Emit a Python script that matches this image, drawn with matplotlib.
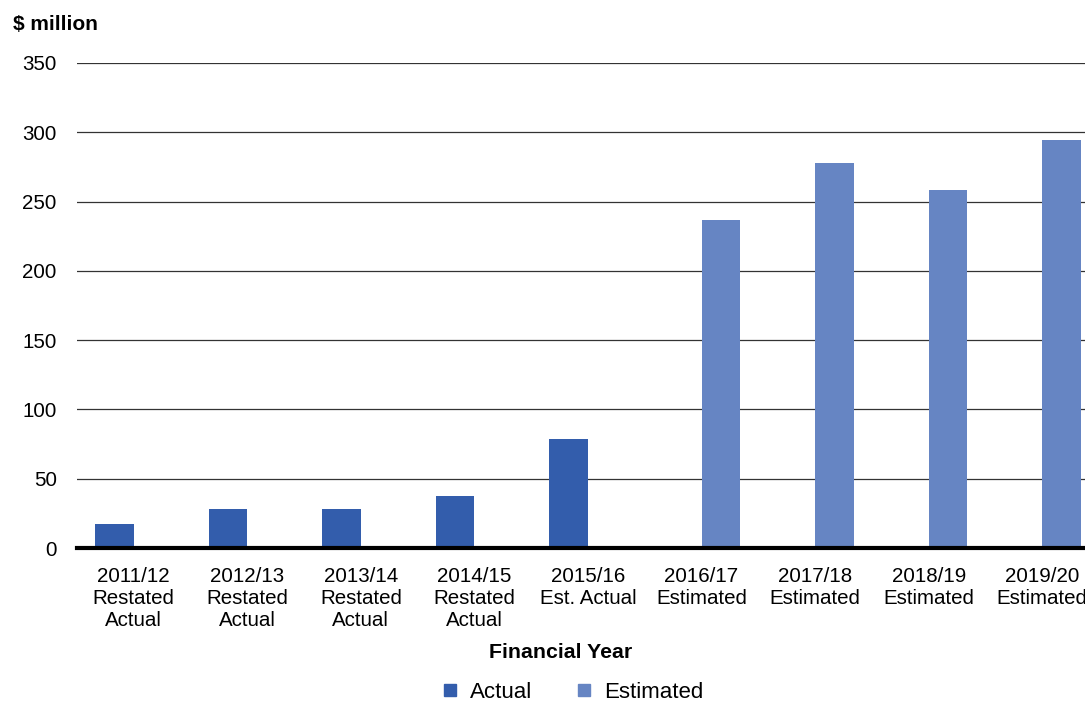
import numpy as np
import matplotlib.pyplot as plt
from matplotlib.lines import Line2D

plt.rcParams['font.family'] = ['Liberation Sans', 'DejaVu Sans']

# 财年分类与数值（$ million）
years = ["2011/12\nRestated\nActual", "2012/13\nRestated\nActual",
         "2013/14\nRestated\nActual", "2014/15\nRestated\nActual",
         "2015/16\nEst. Actual", "2016/17\nEstimated", "2017/18\nEstimated",
         "2018/19\nEstimated", "2019/20\nEstimated"]
actual = [17, 28, 28, 37.5, 78.5, 0, 0, 0, 0]
estimated = [0, 0, 0, 0, 0, 236.5, 277.5, 258, 294.5]
yticks = [0, 50, 100, 150, 200, 250, 300, 350]

C_ACT = "#335DAC"
C_EST = "#6685C3"

fig = plt.figure(figsize=(10.85, 7.02), dpi=100)
# 图区右侧故意超出画布
ax = fig.add_axes([77 / 1085, 154 / 702, 1022 / 1085, 485 / 702])

x = np.arange(len(years))
w = 0.34
ax.bar(x - w / 2, actual, width=w, color=C_ACT, zorder=3)
ax.bar(x + w / 2, estimated, width=w, color=C_EST, zorder=3)

ax.set_xlim(-0.5, len(years) - 0.5)
ax.set_ylim(0, 350)
ax.set_yticks(yticks)
ax.set_xticks(x)
ax.set_xticklabels(years, fontsize=14.8, linespacing=1.2)
ax.tick_params(axis="y", length=0, pad=14.5, labelsize=14.8)
ax.tick_params(axis="x", length=0, pad=13.5)

ax.grid(axis="y", color="#333333", linewidth=0.9, zorder=1)
for s in ["left", "right", "top"]:
    ax.spines[s].set_visible(False)
ax.spines["bottom"].set_linewidth(3)
ax.spines["bottom"].set_color("black")
ax.spines["bottom"].set_zorder(4)

fig.text(13 / 1085, 1 - 24 / 702, "$ million", fontsize=15, fontweight="bold",
         ha="left", va="center")
fig.text(561 / 1085, 1 - 652 / 702, "Financial Year", fontsize=15.3,
         fontweight="bold", ha="center", va="center")

handles = [Line2D([], [], marker="s", linestyle="none", markersize=8.2,
                  color=C_ACT, label="Actual"),
           Line2D([], [], marker="s", linestyle="none", markersize=8.2,
                  color=C_EST, label="Estimated")]
fig.legend(handles=handles, loc="center", bbox_to_anchor=(571 / 1085, 1 - 692 / 702),
           ncol=2, frameon=False, fontsize=16, handletextpad=0.42,
           columnspacing=1.8, handlelength=1.0)

fig.savefig("out.png", dpi=100)
